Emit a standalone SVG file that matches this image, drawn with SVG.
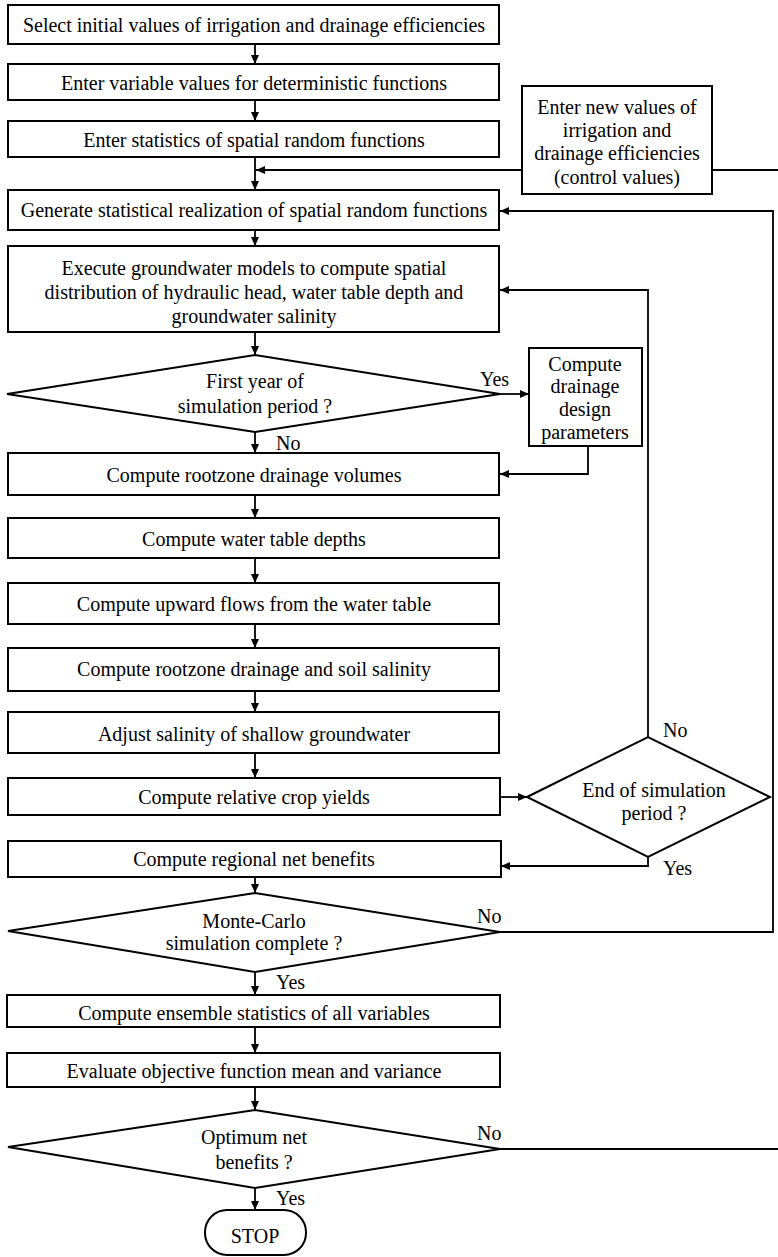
<svg xmlns="http://www.w3.org/2000/svg" width="778" height="1257" viewBox="0 0 778 1257" font-family="'Liberation Serif', 'DejaVu Serif', serif">
<style>
.box{fill:#fff;stroke:#000;stroke-width:2}
.con{fill:none;stroke:#000;stroke-width:1.8}
text{font-family:'Liberation Serif','DejaVu Serif',serif;font-size:20px;fill:#000;text-anchor:middle;dominant-baseline:central}
.lbl{text-anchor:start}
</style>
<defs>
<marker id="ah" markerUnits="userSpaceOnUse" markerWidth="10" markerHeight="10" refX="9" refY="4" orient="auto">
<path d="M0,0 L9,4 L0,8 z" fill="#000"/>
</marker>
</defs>
<rect width="778" height="1257" fill="#fff"/>
<g id="connectors">
<line class="con" x1="255" y1="44" x2="255" y2="64" marker-end="url(#ah)"/>
<line class="con" x1="255" y1="100" x2="255" y2="121" marker-end="url(#ah)"/>
<line class="con" x1="255" y1="157" x2="255" y2="190" marker-end="url(#ah)"/>
<line class="con" x1="522" y1="170" x2="256" y2="170" marker-end="url(#ah)"/>
<line class="con" x1="712" y1="170" x2="778" y2="170"/>
<line class="con" x1="255" y1="230" x2="255" y2="246" marker-end="url(#ah)"/>
<line class="con" x1="255" y1="332" x2="255" y2="355" marker-end="url(#ah)"/>
<line class="con" x1="255" y1="432" x2="255" y2="453" marker-end="url(#ah)"/>
<line class="con" x1="500" y1="394" x2="529" y2="394" marker-end="url(#ah)"/>
<polyline class="con" points="588,446 588,474 500,474" marker-end="url(#ah)"/>
<polyline class="con" points="648,737 648,290 500,290" marker-end="url(#ah)"/>
<line class="con" x1="255" y1="495" x2="255" y2="518" marker-end="url(#ah)"/>
<line class="con" x1="255" y1="558" x2="255" y2="583" marker-end="url(#ah)"/>
<line class="con" x1="255" y1="624" x2="255" y2="648" marker-end="url(#ah)"/>
<line class="con" x1="255" y1="691" x2="255" y2="712" marker-end="url(#ah)"/>
<line class="con" x1="255" y1="753" x2="255" y2="778" marker-end="url(#ah)"/>
<line class="con" x1="500" y1="797" x2="527" y2="797" marker-end="url(#ah)"/>
<polyline class="con" points="648,857 648,866 501,866" marker-end="url(#ah)"/>
<line class="con" x1="255" y1="877" x2="255" y2="893" marker-end="url(#ah)"/>
<polyline class="con" points="500,932 773,932 773,211 500,211" marker-end="url(#ah)"/>
<line class="con" x1="255" y1="972" x2="255" y2="995" marker-end="url(#ah)"/>
<line class="con" x1="255" y1="1027" x2="255" y2="1053" marker-end="url(#ah)"/>
<line class="con" x1="255" y1="1087" x2="255" y2="1110" marker-end="url(#ah)"/>
<line class="con" x1="500" y1="1149" x2="778" y2="1149"/>
<line class="con" x1="255" y1="1188" x2="255" y2="1210" marker-end="url(#ah)"/>
<text class="lbl" x="480" y="379">Yes</text>
<text class="lbl" x="276" y="443">No</text>
<text class="lbl" x="663" y="730">No</text>
<text class="lbl" x="663" y="868">Yes</text>
<text class="lbl" x="477" y="916">No</text>
<text class="lbl" x="276" y="982">Yes</text>
<text class="lbl" x="477" y="1133">No</text>
<text class="lbl" x="276" y="1198">Yes</text>
</g>
<g id="n1"><rect class="box" x="8" y="5" width="491" height="39"/><text x="254" y="25">Select initial values of irrigation and drainage efficiencies</text></g>
<g id="n2"><rect class="box" x="8" y="64" width="491" height="36"/><text x="254" y="83">Enter variable values for deterministic functions</text></g>
<g id="n3"><rect class="box" x="8" y="121" width="491" height="36"/><text x="254" y="140">Enter statistics of spatial random functions</text></g>
<g id="n_new"><rect class="box" x="522" y="86" width="190" height="108"/><text x="617" y="107">Enter new values of</text><text x="617" y="130">irrigation and</text><text x="617" y="153">drainage efficiencies</text><text x="617" y="177">(control values)</text></g>
<g id="n4"><rect class="box" x="8" y="190" width="491" height="40"/><text x="254" y="210">Generate statistical realization of spatial random functions</text></g>
<g id="n5"><rect class="box" x="8" y="246" width="491" height="86"/><text x="254" y="268">Execute groundwater models to compute spatial</text><text x="254" y="292">distribution of hydraulic head, water table depth and</text><text x="254" y="316">groundwater salinity</text></g>
<g id="d1"><polygon class="box" points="7,394 255,355 500,394 255,432"/><text x="255" y="381">First year of</text><text x="255" y="406">simulation period ?</text></g>
<g id="n_drain"><rect class="box" x="529" y="348" width="113" height="98"/><text x="585" y="364">Compute</text><text x="585" y="386">drainage</text><text x="585" y="409">design</text><text x="585" y="432">parameters</text></g>
<g id="n6"><rect class="box" x="8" y="453" width="491" height="42"/><text x="254" y="475">Compute rootzone drainage volumes</text></g>
<g id="n7"><rect class="box" x="8" y="518" width="491" height="40"/><text x="254" y="539">Compute water table depths</text></g>
<g id="n8"><rect class="box" x="8" y="583" width="491" height="41"/><text x="254" y="604">Compute upward flows from the water table</text></g>
<g id="n9"><rect class="box" x="8" y="648" width="491" height="43"/><text x="254" y="669">Compute rootzone drainage and soil salinity</text></g>
<g id="n10"><rect class="box" x="8" y="712" width="491" height="41"/><text x="254" y="734">Adjust salinity of shallow groundwater</text></g>
<g id="n11"><rect class="box" x="8" y="778" width="492" height="37"/><text x="254" y="797">Compute relative crop yields</text></g>
<g id="d2"><polygon class="box" points="527,797 648,737 770,797 648,857"/><text x="654" y="790">End of simulation</text><text x="654" y="813">period ?</text></g>
<g id="n12"><rect class="box" x="8" y="841" width="493" height="36"/><text x="254" y="859">Compute regional net benefits</text></g>
<g id="d3"><polygon class="box" points="8,931 255,893 500,932 255,972"/><text x="254" y="921">Monte-Carlo</text><text x="254" y="943">simulation complete ?</text></g>
<g id="n13"><rect class="box" x="7" y="995" width="493" height="32"/><text x="254" y="1013">Compute ensemble statistics of all variables</text></g>
<g id="n14"><rect class="box" x="7" y="1053" width="493" height="34"/><text x="254" y="1071">Evaluate objective function mean and variance</text></g>
<g id="d4"><polygon class="box" points="8,1147 255,1110 500,1149 255,1188"/><text x="254" y="1137">Optimum net</text><text x="254" y="1162">benefits ?</text></g>
<g id="stop"><rect class="box" x="205" y="1210" width="101" height="45" rx="22"/><text x="255" y="1236">STOP</text></g>
</svg>
